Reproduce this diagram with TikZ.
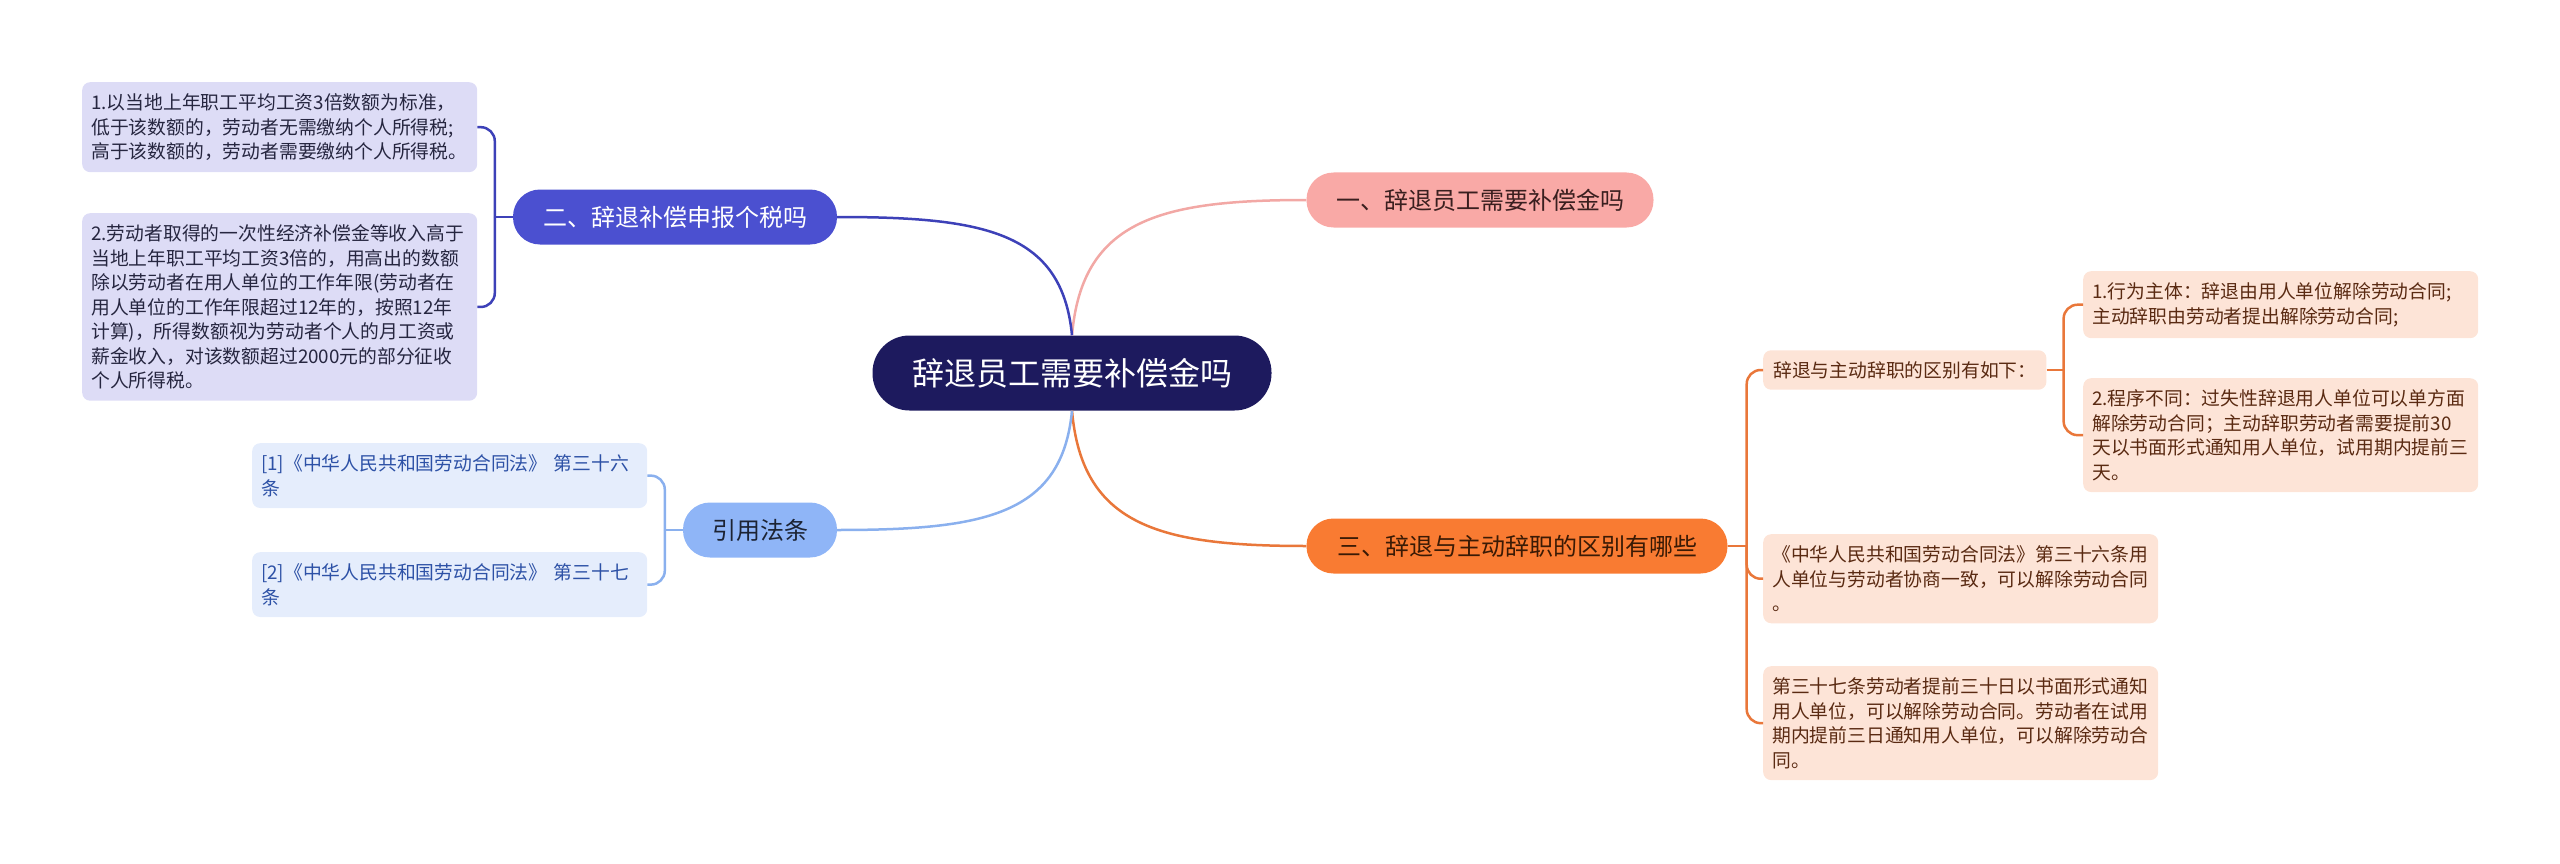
\documentclass[tikz,border=0pt]{standalone}
\usepackage{fontspec}
\setmainfont{Noto Sans CJK SC}
\definecolor{navy}{HTML}{1D1A5E}
\definecolor{pinkfill}{HTML}{F9A9A6}
\definecolor{pinkline}{HTML}{F2A8A5}
\definecolor{pinktext}{HTML}{3A1F1F}
\definecolor{indigofill}{HTML}{4B50D0}
\definecolor{indigoline}{HTML}{3D41B8}
\definecolor{lilac}{HTML}{DDDCF6}
\definecolor{lilactext}{HTML}{262640}
\definecolor{skyfill}{HTML}{8FB5F7}
\definecolor{skyline}{HTML}{8AB0EE}
\definecolor{skytext}{HTML}{1C2333}
\definecolor{reffill}{HTML}{E5EDFC}
\definecolor{reftext}{HTML}{2D51A6}
\definecolor{orangefill}{HTML}{F97B32}
\definecolor{orangeline}{HTML}{E9773A}
\definecolor{orangetext}{HTML}{3A1A05}
\definecolor{peach}{HTML}{FDE4D7}
\definecolor{peachtext}{HTML}{5A2A12}

\begin{document}
\begin{tikzpicture}[x=1pt,y=-1pt,
  topic/.style={rounded corners=27pt,minimum height=55pt,inner sep=0pt,font=\fontsize{24}{28}\selectfont},
  leaf/.style={rounded corners=8pt,text width=377pt,inner xsep=9pt,inner ysep=11.5pt,align=left,anchor=north west,font=\fontsize{18.8}{24.5}\selectfont},
  branch/.style={line width=2.5pt},
  bracket/.style={line width=2.5pt,rounded corners=14pt}]
\useasboundingbox (0,0) rectangle (2560,864);
% central topic
\node[fill=navy,text=white,rounded corners=37pt,minimum width=399pt,minimum height=75pt,inner sep=0pt,font=\fontsize{32}{36}\selectfont] (ctr) at (1072,373) {辞退员工需要补偿金吗};
% main topics
\node[topic,fill=pinkfill,text=pinktext,minimum width=347pt] (t1) at (1480,200) {一、辞退员工需要补偿金吗};
\node[topic,fill=indigofill,text=white,minimum width=324pt] (t2) at (675,217) {二、辞退补偿申报个税吗};
\node[topic,fill=orangefill,text=orangetext,minimum width=421pt] (t3) at (1517,546) {三、辞退与主动辞职的区别有哪些};
\node[topic,fill=skyfill,text=skytext,minimum width=154pt] (t4) at (760,530) {引用法条};
% leaves of t2
\node[leaf,fill=lilac,text=lilactext] (l1) at (82,82) {1.以当地上年职工平均工资3倍数额为标准，\\低于该数额的，劳动者无需缴纳个人所得税;\\高于该数额的，劳动者需要缴纳个人所得税。};
\node[leaf,fill=lilac,text=lilactext] (l2) at (82,213) {2.劳动者取得的一次性经济补偿金等收入高于\\当地上年职工平均工资3倍的，用高出的数额\\除以劳动者在用人单位的工作年限(劳动者在\\用人单位的工作年限超过12年的，按照12年\\计算)，所得数额视为劳动者个人的月工资或\\薪金收入，对该数额超过2000元的部分征收\\个人所得税。};
% leaves of t4
\node[leaf,fill=reffill,text=reftext] (r1) at (252,443) {[1]《中华人民共和国劳动合同法》 第三十六\\条};
\node[leaf,fill=reffill,text=reftext] (r2) at (252,552) {[2]《中华人民共和国劳动合同法》 第三十七\\条};
% leaves of t3
\node[rounded corners=8pt,inner xsep=10pt,inner ysep=11pt,anchor=west,fill=peach,text=peachtext,font=\fontsize{18.8}{24.5}\selectfont] (s) at (1763,370) {辞退与主动辞职的区别有如下：};
\node[leaf,fill=peach,text=peachtext] (s1) at (2083,271) {1.行为主体：辞退由用人单位解除劳动合同;\\主动辞职由劳动者提出解除劳动合同;};
\node[leaf,fill=peach,text=peachtext] (s2) at (2083,378) {2.程序不同：过失性辞退用人单位可以单方面\\解除劳动合同；主动辞职劳动者需要提前30\\天以书面形式通知用人单位，试用期内提前三\\天。};
\node[leaf,fill=peach,text=peachtext] (u1) at (1763,534) {《中华人民共和国劳动合同法》第三十六条用\\人单位与劳动者协商一致，可以解除劳动合同\\。};
\node[leaf,fill=peach,text=peachtext] (u2) at (1763,666) {第三十七条劳动者提前三十日以书面形式通知\\用人单位，可以解除劳动合同。劳动者在试用\\期内提前三日通知用人单位，可以解除劳动合\\同。};
% junctions
\coordinate (j2) at ([xshift=-18pt]t2.west);
\coordinate (j4) at ([xshift=-18pt]t4.west);
\coordinate (j3) at ([xshift=19pt]t3.east);
\coordinate (js) at ([xshift=17pt]s.east);
% main branches
\draw[branch,pinkline] (ctr.north) .. controls (1082,220) and (1160,200) .. (t1.west);
\draw[branch,indigoline] (ctr.north) .. controls (1062,232) and (985,217) .. (t2.east);
\draw[branch,orangeline] (ctr.south) .. controls (1082,526) and (1160,546) .. (t3.west);
\draw[branch,skyline] (ctr.south) .. controls (1062,515) and (985,530) .. (t4.east);
% brackets
\draw[branch,indigoline] (t2.west) -- (j2);
\draw[bracket,indigoline] (j2) |- (l1.east);
\draw[bracket,indigoline] (j2) |- (l2.east);
\draw[branch,skyline] (t4.west) -- (j4);
\draw[bracket,skyline] (j4) |- (r1.east);
\draw[bracket,skyline] (j4) |- (r2.east);
\draw[branch,orangeline] (t3.east) -- (j3);
\draw[bracket,orangeline] (j3) |- (s.west);
\draw[bracket,orangeline] (j3) |- (u1.west);
\draw[bracket,orangeline] (j3) |- (u2.west);
\draw[branch,orangeline] (s.east) -- (js);
\draw[bracket,orangeline] (js) |- (s1.west);
\draw[bracket,orangeline] (js) |- (s2.west);
\end{tikzpicture}
\end{document}
